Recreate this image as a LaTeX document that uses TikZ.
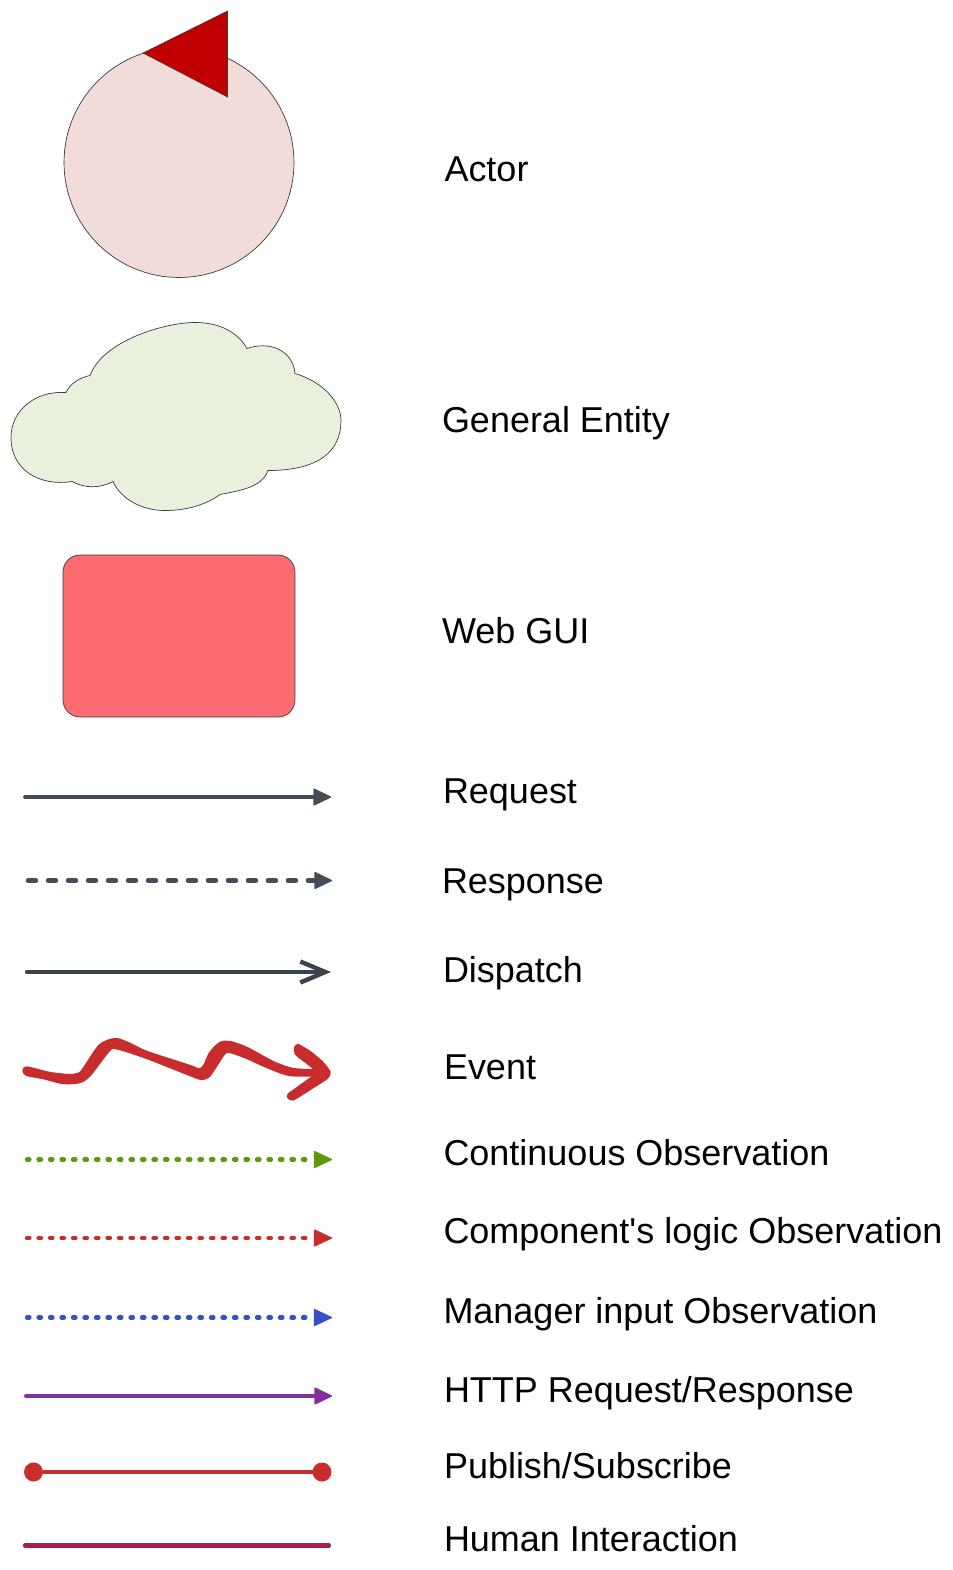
\documentclass[tikz,border=0pt]{standalone}
\usepackage{fontspec}
\newfontfamily\legendfont{Liberation Sans}
\usetikzlibrary{arrows.meta}

\definecolor{lgactorfill}{RGB}{241,220,218}
\definecolor{lgflag}{RGB}{192,0,0}
\definecolor{lgcloudfill}{RGB}{233,240,222}
\definecolor{lgguifill}{RGB}{255,107,112}
\definecolor{lgedge}{RGB}{60,60,60}
\definecolor{lgslate}{RGB}{69,76,86}
\definecolor{lgdark}{RGB}{58,66,76}
\definecolor{lgred}{RGB}{201,44,44}
\definecolor{lggreen}{RGB}{91,154,14}
\definecolor{lgblue}{RGB}{53,80,200}
\definecolor{lgpurple}{RGB}{131,46,158}
\definecolor{lgcrimson}{RGB}{165,30,76}

\begin{document}
\begin{tikzpicture}[
  x=0.02cm,
  y=-0.02cm,
  every node/.style={inner sep=0pt, outer sep=0pt},
  legendtext/.style={anchor=base west, font=\legendfont\fontsize{20.48}{24}\selectfont, text=black},
  actorbody/.style={circle, draw=lgedge, fill=lgactorfill, line width=0.4pt, minimum size=4.6cm},
  actorflag/.style={draw=lgedge, fill=lgflag, line width=0.3pt},
  cloudbody/.style={draw=lgedge, fill=lgcloudfill, line width=0.4pt},
  guibox/.style={draw=lgedge, fill=lgguifill, rounded corners=0.34cm, line width=0.4pt, minimum width=4.64cm, minimum height=3.24cm},
  reqflow/.style={draw=lgslate, line width=2.2pt, line cap=round, -{Triangle[length=0.37cm, width=0.35cm, round, line width=0.8pt]}},
  respflow/.style={reqflow, line width=2.5pt, dash pattern=on 0.16cm off 0.24cm},
  dispflow/.style={draw=lgdark, line width=2.5pt, line cap=round, -{Straight Barb[length=0.5cm, width=0.42cm, line width=2.5pt]}},
  obsflow/.style={line width=2.4pt, line cap=round, dash pattern=on 0.05cm off 0.18cm, -{Triangle[length=0.38cm, width=0.35cm, round, line width=0.8pt]}},
  httpflow/.style={draw=lgpurple, line width=2.2pt, line cap=round, -{Triangle[length=0.37cm, width=0.35cm, round, line width=0.8pt]}},
  pubdot/.style={circle, fill=lgred, minimum size=0.38cm},
  pubflow/.style={draw=lgred, line width=2.4pt},
  humanflow/.style={draw=lgcrimson, line width=2.4pt, line cap=round},
  eventbody/.style={fill=lgred, draw=lgred, line width=1.3pt, line join=round}
]

  \path[use as bounding box] (0,0) rectangle (953,1570);

  % Actor
  \node[actorbody] (actor) at (179,162.5) {};
  \draw[actorflag] (143,53) -- (227.5,11) -- (227.5,97) -- cycle;
  \node[legendtext] (actorlabel) at (444.5,181.5) {Actor};

  % General entity
  \draw[cloudbody] (90,375.5) .. controls (103,340.5) and (165,322.5) .. (195,322.5)
    .. controls (220,322.5) and (238,332.5) .. (247,348.5)
    .. controls (270,340.5) and (293,350.5) .. (295,373.5)
    .. controls (325,382.5) and (341,403.5) .. (341,420.5)
    .. controls (341,450.5) and (320,470.5) .. (268,470.5)
    .. controls (262,487.5) and (240,490.5) .. (220,494.5)
    .. controls (205,505.5) and (185,510.5) .. (165,510.5)
    .. controls (140,510.5) and (120,497.5) .. (113,481.5)
    .. controls (100,488.5) and (85,488.5) .. (72,481.5)
    .. controls (40,486.5) and (11,470.5) .. (11,437.5)
    .. controls (11,410.5) and (35,390.5) .. (66,392.5)
    .. controls (70,383.5) and (80,377.5) .. (90,375.5) -- cycle;
  \node[legendtext] (entitylabel) at (442,432.5) {General Entity};

  % Web GUI
  \node[guibox] (gui) at (179,636) {};
  \node[legendtext] (guilabel) at (442,643) {Web GUI};

  % Request
  \coordinate (reqa) at (25,797);
  \coordinate (reqb) at (331,797);
  \draw[reqflow] (reqa) -- (reqb);
  \node[legendtext] (reqlabel) at (443,803.5) {Request};

  % Response
  \coordinate (respa) at (28,880.5);
  \coordinate (respb) at (332,880.5);
  \draw[respflow] (respa) -- (respb);
  \node[legendtext] (resplabel) at (442,893.5) {Response};

  % Dispatch
  \coordinate (dispa) at (27,972);
  \coordinate (dispb) at (331,972);
  \draw[dispflow] (dispa) -- (dispb);
  \node[legendtext] (displabel) at (443,982.8) {Dispatch};

  % Event
  \fill[eventbody] plot[smooth cycle, tension=0.45] coordinates {
    (27,1067.5) (50,1073) (70,1075) (80,1073) (86,1065) (100,1045) (115,1039)
    (128,1043) (147,1052) (190,1066) (199,1069.5) (204,1066) (210,1053) (220,1043)
    (230,1042) (247,1048) (273,1062) (293,1069) (322,1071) (322,1075) (290,1075)
    (267,1067) (247,1058) (230,1052) (224,1054) (210,1075) (202,1079) (190,1075)
    (147,1058) (115,1048) (107,1053) (90,1075) (80,1082) (63,1083) (43,1078)
    (27,1075) (23.5,1071)};
  \fill[eventbody] plot[smooth cycle, tension=0.35] coordinates {
    (298,1045) (310,1052) (322,1062) (329.5,1072) (327,1078) (310,1089) (293,1099.5)
    (288,1097) (289,1094) (300,1086) (317,1073) (311,1066) (302,1059) (296,1054) (295,1048)};
  \node[legendtext] (evlabel) at (444,1079.5) {Event};

  % Observations
  \coordinate (conta) at (27,1159.5);
  \coordinate (contb) at (332,1159.5);
  \draw[obsflow, draw=lggreen, lggreen] (conta) -- (contb);
  \node[legendtext] (contlabel) at (443.5,1165.5) {Continuous Observation};

  \coordinate (logica) at (27,1238);
  \coordinate (logicb) at (332,1238);
  \draw[obsflow, draw=lgred, lgred] (logica) -- (logicb);
  \node[legendtext] (logiclabel) at (443.5,1243) {Component's logic Observation};

  \coordinate (mana) at (27,1317.5);
  \coordinate (manb) at (332,1317.5);
  \draw[obsflow, draw=lgblue, lgblue] (mana) -- (manb);
  \node[legendtext] (manlabel) at (443.5,1323.5) {Manager input Observation};

  % HTTP
  \coordinate (httpa) at (26,1396);
  \coordinate (httpb) at (332,1396);
  \draw[httpflow] (httpa) -- (httpb);
  \node[legendtext] (httplabel) at (444,1402.5) {HTTP Request/Response};

  % Publish / subscribe
  \node[pubdot] (puba) at (33.5,1472) {};
  \node[pubdot] (pubb) at (322,1472) {};
  \draw[pubflow] (puba) -- (pubb);
  \node[legendtext] (publabel) at (444,1478) {Publish/Subscribe};

  % Human interaction
  \coordinate (huma) at (25,1545.5);
  \coordinate (humb) at (329,1545.5);
  \draw[humanflow] (huma) -- (humb);
  \node[legendtext] (humlabel) at (444,1551.5) {Human Interaction};

\end{tikzpicture}
\end{document}
